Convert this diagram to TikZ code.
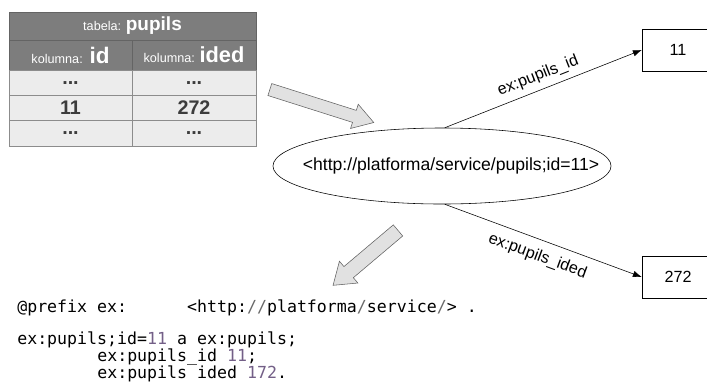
\documentclass[tikz,border=0pt]{standalone}
\usepackage{fontspec}
\setmainfont{Liberation Sans}
\setmonofont{DejaVu Sans Mono}
\usepackage{tikz}
\usetikzlibrary{arrows.meta,positioning,shapes.geometric,shapes.arrows}
\definecolor{HGray}{RGB}{125,125,125}
\definecolor{HLine}{RGB}{100,100,100}
\definecolor{CGray}{RGB}{236,236,236}
\definecolor{CLine}{RGB}{140,140,140}
\definecolor{CText}{RGB}{60,60,60}
\definecolor{AFill}{RGB}{225,225,225}
\definecolor{NumPurple}{RGB}{115,95,135}
\definecolor{SlashGray}{RGB}{105,105,105}
\newcommand{\celldots}{...}

\begin{document}
\begin{tikzpicture}[
    x=0.025cm, y=-0.025cm,
    hcell/.style={
      draw=HLine,
      fill=HGray,
      text=white,
      inner sep=0pt,
      font=\fontsize{9}{11}\selectfont
    },
    dcell/.style={
      draw=CLine,
      fill=CGray,
      text=CText,
      inner sep=0pt,
      minimum height=0.633cm,
      font=\bfseries\fontsize{14}{16}\selectfont
    },
    bigarrow/.style={
      single arrow,
      draw=HLine,
      fill=AFill,
      inner xsep=0pt,
      single arrow head indent=0pt
    },
    resource/.style={
      ellipse,
      draw,
      inner sep=0pt,
      minimum width=8.45cm,
      minimum height=1.9cm,
      font=\fontsize{12.5}{14}\selectfont
    },
    valbox/.style={
      draw,
      minimum width=1.8cm,
      minimum height=1.05cm,
      font=\fontsize{11.5}{13}\selectfont
    },
    edge/.style={-{Latex[length=2.2mm,width=1.6mm]}, thin},
    elabel/.style={font=\fontsize{11.5}{13}\selectfont},
    code/.style={anchor=base west, inner sep=0pt, font=\ttfamily\fontsize{11.8}{12}\selectfont}
  ]
    \useasboundingbox (0,0) rectangle (707,389);
    \clip (0,0) rectangle (707,389);

    % table
    \node[hcell, minimum width=6.175cm, minimum height=0.7cm] (title) at (132.5,26)
      {tabela: {\bfseries\fontsize{13.5}{15}\selectfont pupils}};
    \node[hcell, minimum width=3.075cm, minimum height=0.75cm] (colid) at (70.5,55)
      {kolumna:\, {\bfseries\fontsize{16}{18}\selectfont id}};
    \node[hcell, minimum width=3.1cm, minimum height=0.75cm] (colided) at (194,55)
      {kolumna: {\bfseries\fontsize{15.5}{18}\selectfont ided}};
    \foreach \y/\a/\b [count=\i] in {82.7/\celldots/\celldots, 108/11/272, 133.3/\celldots/\celldots} {
      \node[dcell, minimum width=3.075cm] (id\i) at (70.5,\y) {\a};
      \node[dcell, minimum width=3.1cm] (ided\i) at (194,\y) {\b};
    }

    % block arrows
    \node[bigarrow, inner ysep=0.15cm, minimum height=2.725cm, minimum width=0.625cm,
      single arrow head extend=0.16cm, single arrow tip angle=64, rotate=-17.6] (toRdf) at (317,104.5) {};
    \node[bigarrow, inner ysep=0.175cm, minimum height=2.125cm, minimum width=0.7cm,
      single arrow head extend=0.175cm, single arrow tip angle=70, rotate=220.2] (toTtl) at (369.5,254.5) {};

    % graph
    \node[resource] (res) at (442,166) {\makebox[0pt]{\hspace{0.45cm}<http://platforma/service/pupils;id=11>}};
    \node[valbox] (v11) at (678,50) {11};
    \node[valbox] (v272) at (678,277) {272};

    \draw[edge] ([xshift=2pt]res.north) -- node[sloped, above=1pt, elabel] {ex:pupils\_id} (v11.west);
    \draw[edge] ([xshift=2pt]res.south) -- node[sloped, below=3pt, elabel] {ex:pupils\_ided} (v272.west);

    % turtle
    \node[code] (prefix) at (17,312) {@prefix ex:\hphantom{xxxxxx}<http:{\color{SlashGray}//}platforma{\color{SlashGray}/}service{\color{SlashGray}/}> .};
    \node[code] (subj) at (17,344) {ex:pupils;id={\color{NumPurple}11} a ex:pupils;};
    \node[code] (pid) at (97,361) {ex:pupils\_id {\color{NumPurple}11};};
    \node[code] (pided) at (97,378) {ex:pupils ided {\color{NumPurple}172}.};
  \end{tikzpicture}
\end{document}
